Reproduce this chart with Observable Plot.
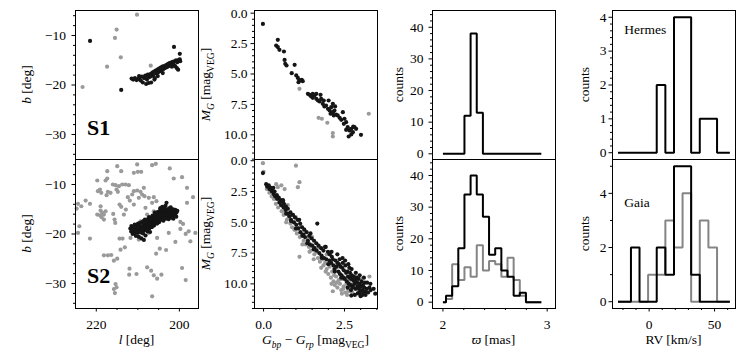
<!DOCTYPE html>
<html><head><meta charset="utf-8">
<script src="https://cdn.jsdelivr.net/npm/d3@7"></script>
<script src="https://cdn.jsdelivr.net/npm/@observablehq/plot@0.6"></script>
<style>
body{margin:0;background:#fff;}
#fig{position:relative;width:750px;height:350px;overflow:hidden;background:#fff;}
#fig svg{position:absolute;}
</style></head><body><div id="fig"></div>
<script>
// ---------- S1: members (black) and field (gray), sky position [l, b] ----------
const s1MemLB = [[211.5,-18.7],[211.1,-18.9],[210.7,-18.6],[210.3,-19.0],[209.9,-18.8],[209.6,-18.5],[209.3,-19.1],[209.0,-18.3],[208.8,-19.5],[208.5,-18.6],[208.2,-18.1],[208.0,-19.8],[207.8,-18.9],[207.6,-17.9],[207.4,-19.6],[207.2,-18.4],[207.0,-17.8],[206.8,-19.5],[206.7,-18.2],[206.5,-17.5],[206.3,-18.0],[206.1,-17.3],[205.9,-18.6],[205.7,-17.1],[205.5,-17.7],[205.3,-16.9],[205.1,-17.4],[204.9,-16.7],[204.7,-17.2],[204.5,-16.5],[204.3,-17.0],[204.1,-16.3],[203.9,-16.8],[203.7,-16.2],[203.5,-16.6],[203.2,-16.0],[203.0,-16.4],[202.8,-15.8],[202.6,-16.2],[202.4,-15.6],[202.2,-16.0],[202.0,-15.5],[201.8,-16.3],[201.6,-15.3],[201.4,-15.8],[201.2,-15.2],[201.0,-16.2],[200.8,-15.0],[200.6,-16.6],[200.5,-15.4],[200.3,-16.9],[200.1,-14.9],[199.9,-14.8],[199.8,-15.2],[201.3,-12.3],[199.9,-13.7],[221.5,-11.1],[214.0,-21.0],[207.9,-18.5],[206.0,-18.9],[204.0,-17.6],[209.7,-18.2],[205.2,-18.2]];
const s1FieldLB = [[210.2,-5.8],[215.1,-8.8],[215.5,-10.5],[214.1,-14.4],[217.4,-16.3],[223.3,-20.4],[206.9,-16.1]];

// ---------- S1: colour-magnitude [Gbp-Grp, M_G] ----------
const s1MemCMD = [[-0.02,0.88],[0.44,2.19],[0.39,2.66],[0.44,2.79],[0.49,3.01],[0.63,3.15],[0.65,3.84],[0.67,4.16],[0.71,4.30],[0.96,4.25],[0.87,4.93],[1.01,5.12],[1.06,5.32],[1.11,5.53],[1.18,5.48],[1.08,5.67],[1.21,5.59],[1.42,6.71],[1.47,6.85],[1.52,6.96],[1.57,6.77],[1.63,7.04],[1.68,7.18],[1.73,7.26],[1.76,6.71],[1.83,7.45],[1.86,7.18],[1.88,7.67],[1.93,7.59],[1.99,7.86],[2.04,8.0],[2.09,7.73],[2.14,7.45],[2.14,8.14],[2.19,8.0],[2.21,7.67],[2.24,8.33],[2.29,8.41],[2.35,8.60],[2.40,8.77],[2.45,8.14],[2.50,8.68],[2.55,8.96],[2.60,9.37],[2.65,9.64],[2.71,9.51],[2.76,9.78],[2.81,9.37],[2.71,9.97],[2.63,10.14],[2.55,9.59],[3.01,10.0],[2.48,9.10],[1.63,6.63],[1.52,6.63],[1.78,7.04],[2.01,7.18],[2.07,8.27],[2.17,8.41],[2.77,9.32],[2.86,9.51],[1.37,6.63]];
const s1FieldCMD = [[1.11,6.22],[1.70,8.60],[1.80,8.68],[1.97,9.01],[2.14,9.86],[2.14,10.14],[3.25,8.27]];

// ---------- S2: members (black) and field (gray), sky position [l, b] ----------
const s2MemLB = [[211.8,-18.9],[211.6,-19.5],[211.55,-18.4],[211.3,-19.0],[211.25,-20.0],[211.0,-18.6],[210.95,-19.4],[210.8,-19.9],[210.75,-18.1],[210.5,-18.9],[210.55,-19.6],[210.45,-20.4],[210.2,-18.3],[210.25,-19.2],[210.0,-19.8],[209.95,-17.9],[210.05,-18.7],[209.7,-19.3],[209.75,-20.6],[209.65,-18.4],[209.5,-17.8],[209.45,-19.0],[209.2,-18.5],[209.25,-19.7],[209.15,-20.9],[209.0,-17.6],[208.95,-18.9],[209.05,-19.4],[208.7,-18.2],[208.75,-19.9],[208.65,-17.4],[208.5,-18.8],[208.45,-19.3],[208.55,-21.2],[208.2,-17.9],[208.25,-18.5],[208.15,-20.3],[208.3,-17.1],[208.0,-19.0],[207.95,-18.0],[208.05,-17.5],[207.7,-18.7],[207.75,-17.2],[207.65,-19.5],[207.8,-18.2],[207.5,-17.8],[207.45,-16.9],[207.55,-18.4],[207.2,-17.4],[207.25,-18.9],[207.15,-17.9],[207.3,-16.6],[207.0,-18.1],[206.95,-17.0],[207.05,-19.6],[206.8,-17.6],[206.85,-16.7],[206.75,-18.5],[206.7,-17.2],[206.5,-16.9],[206.55,-17.9],[206.45,-16.3],[206.6,-18.6],[206.3,-17.3],[206.25,-16.6],[206.35,-18.0],[206.0,-16.8],[206.05,-17.6],[205.95,-16.1],[206.1,-18.3],[205.9,-15.7],[205.8,-17.1],[205.75,-16.4],[205.85,-17.8],[205.5,-16.6],[205.55,-15.9],[205.45,-17.4],[205.6,-16.2],[205.3,-16.9],[205.25,-15.6],[205.35,-17.9],[205.0,-16.3],[204.95,-15.8],[205.05,-17.2],[205.1,-16.7],[204.8,-15.4],[204.75,-16.5],[204.85,-17.6],[204.5,-16.0],[204.55,-15.2],[204.45,-16.8],[204.6,-14.8],[204.3,-16.4],[204.25,-15.7],[204.35,-17.1],[204.0,-15.9],[204.05,-15.1],[203.95,-16.6],[204.1,-14.5],[203.8,-16.2],[203.75,-15.5],[203.85,-17.3],[203.5,-15.8],[203.55,-14.9],[203.45,-16.5],[203.6,-16.0],[203.3,-15.3],[203.25,-16.9],[203.35,-14.3],[203.0,-15.6],[203.05,-16.2],[202.95,-15.0],[203.1,-13.7],[202.8,-15.9],[202.75,-16.6],[202.85,-15.2],[202.5,-15.4],[202.55,-16.1],[202.45,-14.8],[202.6,-17.0],[202.3,-15.7],[202.25,-16.4],[202.0,-15.2],[202.05,-15.9],[201.95,-16.7],[202.1,-14.6],[201.8,-15.5],[201.75,-16.2],[201.5,-15.0],[201.55,-15.8],[201.45,-16.9],[201.2,-15.4],[201.25,-16.3],[201.0,-15.1],[200.95,-15.9],[200.7,-15.6],[200.75,-16.5],[200.5,-15.3]];
const s2FieldLB = [[217.36,-7.30],[214.96,-6.29],[214.0,-7.30],[210.96,-7.64],[210.0,-7.44],[209.2,-7.44],[210.16,-5.95],[206.56,-6.09],[205.68,-5.82],[202.32,-6.76],[199.36,-8.52],[201.36,-8.79],[219.76,-9.19],[217.76,-9.19],[217.36,-8.79],[216.0,-10.0],[215.36,-10.13],[214.56,-10.34],[213.76,-10.0],[212.96,-10.0],[212.16,-10.13],[219.12,-11.01],[219.6,-11.35],[218.8,-11.69],[217.2,-11.48],[216.56,-11.69],[217.52,-12.16],[215.12,-11.01],[214.8,-11.48],[210.96,-11.35],[210.16,-11.21],[209.36,-11.48],[208.56,-10.67],[208.96,-12.02],[209.76,-12.70],[208.4,-12.36],[207.36,-12.70],[206.16,-12.56],[205.52,-13.37],[206.56,-13.71],[212.4,-12.56],[211.92,-13.24],[211.36,-12.02],[222.56,-13.24],[224.4,-13.91],[223.6,-14.39],[224.72,-14.86],[221.52,-13.91],[218.96,-15.26],[218.56,-15.74],[218.16,-16.07],[219.12,-16.21],[218.72,-16.61],[218.16,-17.09],[217.76,-15.40],[215.92,-15.94],[215.6,-17.09],[215.44,-17.76],[214.4,-14.05],[214.0,-14.52],[212.88,-15.06],[213.36,-16.07],[224.4,-19.78],[221.52,-20.93],[214.4,-20.93],[213.68,-20.93],[213.12,-22.69],[218.16,-24.31],[217.2,-24.31],[216.4,-24.24],[215.76,-25.38],[214.96,-24.98],[215.36,-30.11],[215.12,-30.78],[215.76,-31.12],[215.52,-31.93],[212.0,-27.0],[212.08,-28.22],[210.32,-28.08],[207.76,-26.73],[206.8,-27.41],[206.16,-28.35],[205.36,-29.03],[204.32,-28.22],[205.6,-23.97],[204.72,-22.96],[206.56,-32.60],[199.36,-26.87],[198.48,-29.30],[199.12,-17.96],[199.76,-18.97],[197.76,-19.45],[197.36,-21.47],[196.16,-19.78],[198.48,-19.99],[196.72,-12.56],[198.16,-13.71],[200.96,-21.61],[203.2,-23.23],[199.76,-17.56],[214.16,-23.16],[224.08,-18.43],[219.76,-16.07],[218.96,-14.39],[207.76,-16.07],[209.36,-17.42],[206.16,-15.40],[204.56,-14.72],[210.96,-14.05],[208.16,-14.72],[202.56,-19.78],[205.36,-20.80],[211.76,-20.80],[209.76,-21.13],[207.36,-19.78],[198.16,-10.67]];

// ---------- S2: colour-magnitude [Gbp-Grp, M_G] ----------
const s2MemCMD = [[-0.02,1.0],[0.08,1.9],[0.11,2.1],[0.16,2.0],[0.18,2.3],[0.23,2.2],[0.26,2.5],[0.27,2.3],[0.31,2.7],[0.34,2.5],[0.36,2.9],[0.41,2.8],[0.42,3.1],[0.47,3.0],[0.49,3.4],[0.53,3.2],[0.54,3.6],[0.59,3.3],[0.62,3.8],[0.63,3.5],[0.68,4.0],[0.69,3.7],[0.74,4.3],[0.75,3.9],[0.80,4.5],[0.83,4.2],[0.85,4.8],[0.91,4.4],[0.94,5.0],[0.97,4.6],[1.01,5.2],[1.05,4.8],[1.07,5.5],[1.13,5.1],[1.14,5.8],[1.19,5.4],[1.23,6.0],[1.26,5.6],[1.28,6.2],[1.33,5.8],[1.37,6.5],[1.41,6.1],[1.43,6.8],[1.48,6.3],[1.50,6.9],[1.56,6.5],[1.57,7.1],[1.63,6.7],[1.66,5.1],[1.64,7.3],[1.70,6.9],[1.72,7.5],[1.78,7.1],[1.79,7.7],[1.85,7.3],[1.87,7.9],[1.92,7.0],[1.94,8.0],[1.99,7.4],[2.03,8.1],[2.04,7.6],[2.09,8.3],[2.11,7.8],[2.16,8.5],[2.14,8.0],[2.19,8.8],[2.22,8.1],[2.25,8.6],[2.28,8.3],[2.31,9.0],[2.33,8.4],[2.36,9.2],[2.38,8.6],[2.41,9.3],[2.43,8.7],[2.46,9.5],[2.48,8.9],[2.51,9.6],[2.53,8.5],[2.55,9.1],[2.57,9.8],[2.59,9.0],[2.61,9.4],[2.63,10.0],[2.65,9.5],[2.67,9.1],[2.69,10.1],[2.71,9.6],[2.73,9.3],[2.75,10.2],[2.77,9.7],[2.79,9.4],[2.81,10.0],[2.83,9.7],[2.85,10.4],[2.87,9.5],[2.89,9.9],[2.91,10.2],[2.93,9.6],[2.95,10.4],[2.97,10.0],[2.99,10.6],[3.01,10.2],[3.03,9.8],[3.05,10.5],[3.07,10.1],[3.09,10.7],[3.11,10.3],[3.13,9.9],[3.15,10.6],[3.19,10.4],[3.23,10.7],[3.27,10.3],[3.31,10.5],[2.28,7.6],[2.44,7.9],[2.52,8.1],[2.62,8.4],[2.72,8.8],[2.85,9.1],[2.97,9.3],[3.10,9.5],[3.20,9.9],[3.30,10.0],[3.40,10.4],[3.45,10.8],[2.60,10.3],[2.70,10.5],[2.82,10.9],[3.00,11.0],[3.15,10.9],[2.40,9.5],[2.20,9.0],[2.00,8.4],[1.80,7.9],[1.55,7.2],[1.35,6.7],[1.20,6.1],[1.00,5.5],[0.85,4.9],[0.70,4.3],[2.95,10.8],[2.75,10.3],[2.65,8.7],[2.45,8.3],[2.35,8.0],[2.10,7.4],[1.90,7.0],[1.45,5.9],[1.10,4.8],[0.60,3.2],[0.30,2.2],[3.05,10.9],[2.71,10.95],[2.91,10.76]];
const s2FieldCMD = [[-0.02,0.2],[0.0,0.9],[1.0,0.4],[1.06,2.15],[0.39,1.9],[0.55,2.0],[0.65,2.3],[0.44,2.15],[1.11,1.74],[0.10,2.3],[0.18,2.6],[0.25,2.9],[0.32,3.1],[0.38,3.5],[0.45,3.8],[0.50,3.3],[0.56,4.1],[0.62,4.4],[0.68,4.2],[0.72,4.8],[0.78,4.6],[0.83,5.1],[0.88,5.4],[0.92,5.0],[0.98,5.6],[1.03,5.9],[1.08,5.5],[1.12,6.2],[1.11,7.8],[1.18,6.0],[1.24,6.5],[1.30,6.8],[1.35,6.3],[1.40,7.0],[1.46,7.3],[1.52,6.9],[1.57,7.6],[1.62,7.4],[1.68,7.9],[1.74,8.2],[1.80,7.8],[1.85,8.5],[1.90,8.3],[1.95,8.8],[2.00,9.2],[2.04,8.6],[2.08,9.5],[2.12,9.0],[2.16,9.8],[2.20,10.1],[2.14,10.6],[2.24,9.4],[2.28,10.3],[2.32,9.7],[2.36,10.0],[2.40,10.5],[2.44,9.6],[2.48,10.2],[2.52,10.7],[2.56,10.0],[2.60,10.4],[2.64,9.8],[2.68,10.6],[2.72,10.2],[2.76,10.0],[2.80,10.4],[2.85,10.1],[2.90,10.3],[3.27,9.4],[3.00,9.6],[0.75,3.6],[1.00,4.6],[1.50,6.2],[1.95,7.6],[2.30,8.6],[2.60,9.0],[2.70,9.3],[2.20,8.8],[1.70,7.0],[1.25,5.6],[0.35,2.9],[0.60,3.7],[0.85,4.4],[1.15,5.3],[1.38,6.6],[1.60,7.1],[1.82,8.0],[2.02,8.4],[2.18,9.3],[2.34,9.1],[2.50,9.5],[2.66,10.1],[2.82,9.8],[2.95,10.6],[1.92,9.0],[2.10,10.0],[2.26,9.9],[2.42,10.8],[2.58,10.9],[2.46,10.4],[1.78,8.7],[1.55,8.0],[0.70,5.0],[0.95,5.6],[1.20,6.8],[1.42,7.4],[2.38,9.6],[2.62,10.6],[2.74,10.7],[2.88,9.9]];

// ---------- parallax histograms (bin centres, counts) ----------
const plxBinCenters = [2.000,2.059,2.118,2.177,2.236,2.295,2.354,2.413,2.472,2.531,2.590,2.649,2.708,2.767,2.826,2.885,2.944];
const plxCountsS1   = [0,0,0,0,12,38,13,0,0,0,0,0,0,0,0,0,0];
const plxCountsS2   = [0,2,5,17,34,40,34,27,15,17,10,8,2,3,0,0,0];
const plxCountsS2Field = [0,1,12,7,11,8,18,10,13,12,8,14,7,2,0,0,0];

// ---------- RV histograms (bin centres, counts) ----------
const rvBinCenters = [-23.8,-17.2,-10.6,-4.1,2.5,9.1,15.7,22.3,28.8,35.4,42.0,48.6,55.2,61.7];
const rvCountsHermes = [0,0,0,0,0,2,0,4,4,0,1,1,0,0];
const rvCountsGaia   = [0,0,2,0,0,2,1,5,5,1,0,0,0,0];
const rvCountsGaiaField = [0,0,0,0,1,1,3,2,4,0,3,2,0,0];

// ---------- layout ----------
const fig = document.getElementById("fig");
const ML = 60, MR = 10, MT = 10, MB = 45, FW = 123, FH = 149;
const colX = [75, 253.5, 432.3, 611.7], rowY = [10, 159];
const yPad = [6, 3.5, 5.5, 2.5];
const BLACK = "#151515", GRAY = "#9a9a9a";
const FONT = "'Liberation Serif', 'DejaVu Serif', serif";
const minus = d => d < 0 ? "\u2212" + Math.abs(d) : String(d);

function panel(o) {
  const axes = [
    Plot.axisY({ticks: o.yMinor, tickSize: 2, tickFormat: () => "", label: null}),
    Plot.axisY({ticks: o.yTicks, tickSize: 3.5, tickPadding: yPad[o.col], tickFormat: o.yFmt || minus, label: null})
  ];
  if (o.showX) {
    axes.push(Plot.axisX({ticks: o.xMinor, tickSize: 2, tickFormat: () => "", label: null}));
    axes.push(Plot.axisX({ticks: o.xTicks, tickSize: 3.5, tickPadding: 7, tickFormat: o.xFmt || minus, label: null}));
  }
  const svg = Plot.plot({
    width: ML + FW + MR, height: MT + FH + MB,
    marginLeft: ML, marginRight: MR, marginTop: MT, marginBottom: MB,
    x: {domain: o.xDomain, axis: o.showX ? undefined : null},
    y: {domain: o.yDomain},
    style: {fontFamily: FONT, fontSize: "13.5px", background: "transparent", overflow: "visible", color: "black"},
    marks: [...o.marks, Plot.frame({stroke: "black", strokeWidth: 1}), ...axes]
  });
  svg.style.left = (colX[o.col] - ML) + "px";
  svg.style.top = (rowY[o.row] - MT) + "px";
  fig.appendChild(svg);
  return svg;
}

function addText(svg, x, y, parts, opt = {}) {
  const t = d3.select(svg).append("text")
    .attr("x", x).attr("y", y)
    .attr("text-anchor", opt.anchor || "middle")
    .attr("font-family", FONT)
    .attr("font-size", opt.size || 13.5)
    .attr("fill", "black");
  if (opt.rotate) t.attr("transform", `rotate(-90 ${x} ${y})`);
  if (opt.weight) t.attr("font-weight", opt.weight);
  let shift = 0;
  for (const [s, st = {}] of parts) {
    const ts = t.append("tspan").text(s);
    const want = st.sub ? 3.5 : 0;
    if (want !== shift) { ts.attr("dy", want - shift); shift = want; }
    if (st.sub) ts.attr("font-size", 9.5);
    if (st.it) ts.attr("font-style", "italic");
  }
  return t;
}

const dots = (data, fill) => Plot.dot(data, {x: d => d[0], y: d => d[1], r: 2.1, fill, stroke: "none"});
const step = (counts, centers, stroke) => Plot.line(counts, {x: (d, i) => centers[i], y: d => d, curve: "step", stroke, strokeWidth: 2, strokeLinejoin: "miter", strokeLinecap: "butt"});

const lbY = [-30, -20, -10], lbYMinor = [-34, -32, -28, -26, -24, -22, -18, -16, -14, -12, -8, -6];
const cmdY = [0, 2.5, 5, 7.5, 10], cmdYMinor = [0.5, 1, 1.5, 2, 3, 3.5, 4, 4.5, 5.5, 6, 6.5, 7, 8, 8.5, 9, 9.5, 10.5, 11, 11.5, 12];
const f1 = d => d.toFixed(1);
const cntY = [0, 10, 20, 30, 40], cntYMinor = [2, 4, 6, 8, 12, 14, 16, 18, 22, 24, 26, 28, 32, 34, 36, 38, 42, 44];

// Column 1: sky positions
const pA = panel({col: 0, row: 0, xDomain: [225, 195.4], yDomain: [-35.05, -4.95], yTicks: lbY, yMinor: lbYMinor,
  marks: [dots(s1FieldLB, GRAY), dots(s1MemLB, BLACK)]});
addText(pA, ML + 12, MT + 125, [["S1"]], {anchor: "start", size: 22, weight: "bold"});
addText(pA, ML - 44, MT + FH / 2, [["b", {it: true}], [" [deg]"]], {rotate: true});

const pC = panel({col: 0, row: 1, xDomain: [225, 195.4], yDomain: [-35.05, -4.95], yTicks: lbY, yMinor: lbYMinor,
  showX: true, xTicks: [220, 200], xMinor: [215, 210, 205],
  marks: [dots(s2FieldLB, GRAY), dots(s2MemLB, BLACK)]});
addText(pC, ML + 12, MT + 124, [["S2"]], {anchor: "start", size: 22, weight: "bold"});
addText(pC, ML - 44, MT + FH / 2, [["b", {it: true}], [" [deg]"]], {rotate: true});
addText(pC, ML + FW / 2, MT + FH + 36, [["l", {it: true}], [" [deg]"]]);

// Column 2: colour-magnitude diagrams
const pB = panel({col: 1, row: 0, xDomain: [-0.28, 3.52], yDomain: [12.03, -0.22], yTicks: cmdY, yMinor: cmdYMinor, yFmt: f1,
  marks: [dots(s1FieldCMD, GRAY), dots(s1MemCMD, BLACK)]});
const mgLabel = [["M", {it: true}], ["G", {it: true, sub: true}], [" [mag"], ["VEG", {sub: true}], ["]"]];
addText(pB, ML - 44, MT + FH / 2, mgLabel, {rotate: true});

const pD = panel({col: 1, row: 1, xDomain: [-0.28, 3.52], yDomain: [12.0, -0.1], yTicks: cmdY, yMinor: cmdYMinor, yFmt: f1,
  showX: true, xTicks: [0, 2.5], xMinor: [0.5, 1, 1.5, 2, 3, 3.5], xFmt: f1,
  marks: [dots(s2FieldCMD, GRAY), dots(s2MemCMD, BLACK)]});
addText(pD, ML - 44, MT + FH / 2, mgLabel, {rotate: true});
addText(pD, ML + FW / 2, MT + FH + 36, [["G", {it: true}], ["bp", {it: true, sub: true}], [" \u2212 "], ["G", {it: true}], ["rp", {it: true, sub: true}], [" [mag"], ["VEG", {sub: true}], ["]"]]);

// Column 3: parallax histograms
const pE = panel({col: 2, row: 0, xDomain: [1.9, 3.08], yDomain: [-1.8, 45.3], yTicks: cntY, yMinor: cntYMinor,
  marks: [step(plxCountsS1, plxBinCenters, "black")]});
addText(pE, ML - 29, MT + FH / 2, [["counts"]], {rotate: true});

const pF = panel({col: 2, row: 1, xDomain: [1.9, 3.08], yDomain: [-2.0, 45.05], yTicks: cntY, yMinor: cntYMinor,
  showX: true, xTicks: [2, 3], xMinor: [2.2, 2.4, 2.6, 2.8],
  marks: [step(plxCountsS2Field, plxBinCenters, "#858585"), step(plxCountsS2, plxBinCenters, "black")]});
addText(pF, ML - 29, MT + FH / 2, [["counts"]], {rotate: true});
addText(pF, ML + FW / 2, MT + FH + 36, [["\u03D6", {it: true}], [" [mas]"]]);

// Column 4: radial-velocity histograms
const pG = panel({col: 3, row: 0, xDomain: [-28, 66], yDomain: [-0.2, 4.2], yTicks: [0, 1, 2, 3, 4],
  yMinor: [0.2, 0.4, 0.6, 0.8, 1.2, 1.4, 1.6, 1.8, 2.2, 2.4, 2.6, 2.8, 3.2, 3.4, 3.6, 3.8],
  marks: [step(rvCountsHermes, rvBinCenters, "black")]});
addText(pG, ML + 12.3, MT + 24, [["Hermes"]], {anchor: "start"});
addText(pG, ML - 23.5, MT + FH / 2, [["counts"]], {rotate: true});

const pH = panel({col: 3, row: 1, xDomain: [-28, 66], yDomain: [-0.25, 5.25], yTicks: [0, 2, 4], yMinor: [1, 3, 5],
  showX: true, xTicks: [0, 50], xMinor: [-20, -10, 10, 20, 30, 40, 60],
  marks: [step(rvCountsGaiaField, rvBinCenters, "#858585"), step(rvCountsGaia, rvBinCenters, "black")]});
addText(pH, ML + 12.3, MT + 47.5, [["Gaia"]], {anchor: "start"});
addText(pH, ML - 23.5, MT + FH / 2, [["counts"]], {rotate: true});
addText(pH, ML + FW / 2, MT + FH + 36, [["RV [km/s]"]]);
</script>
</body></html>
